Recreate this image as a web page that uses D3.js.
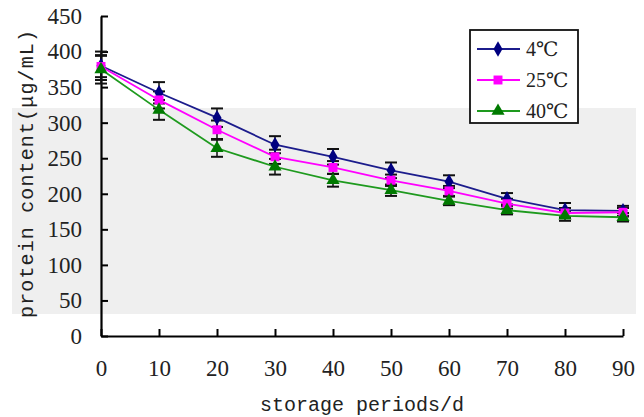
<!DOCTYPE html>
<html>
<head>
<meta charset="utf-8">
<script src="https://d3js.org/d3.v7.min.js"></script>
<style>
  body { margin: 0; background: #fff; }
  svg { display: block; }
</style>
</head>
<body>
<div id="chart"></div>
<script>
// storage periods (days)
const days = [0, 10, 20, 30, 40, 50, 60, 70, 80, 90];
const yTicks = [0, 50, 100, 150, 200, 250, 300, 350, 400, 450];

// protein content per temperature
const t4 = [380, 342, 307, 269, 252, 233, 217, 193, 177, 176];
const t25 = [379, 332, 290, 252, 237, 219, 204, 186, 173, 174];
const t40 = [375, 318, 264, 238, 219, 205, 190, 177, 169, 167];

// error bar half widths
const e4 = [20, 15, 13, 12, 11, 11, 9, 8, 10, 7];
const e25 = [15, 12, 13, 10, 9, 8, 7, 7, 7, 6];
const e40 = [20, 14, 12, 11, 9, 8, 6, 6, 7, 6];

const seriesNames = ['4℃', '25℃', '40℃'];

const width = 644, height = 417;

const svg = d3.select('#chart').append('svg')
    .attr('width', width)
    .attr('height', height);

// grey scan band behind the plot
svg.append('rect')
    .attr('x', 12).attr('y', 108)
    .attr('width', 624).attr('height', 206)
    .attr('fill', '#efefef');

const x = d3.scaleLinear().domain([0, 90]).range([101, 623]);
const y = d3.scaleLinear().domain([0, 450]).range([336, 16]);

const tickFont = "'Liberation Serif', 'DejaVu Serif', serif";
const monoFont = "'Liberation Mono', 'DejaVu Sans Mono', monospace";

// y axis
const yAxis = svg.append('g')
    .attr('transform', `translate(${x(0)},0)`)
    .call(d3.axisLeft(y).tickValues(yTicks).tickSizeInner(-7).tickSizeOuter(0).tickPadding(19));
yAxis.attr('font-family', null).attr('font-size', null);
yAxis.select('.domain').attr('stroke', '#000').attr('stroke-width', 2.2);
yAxis.selectAll('.tick line').attr('stroke', '#000').attr('stroke-width', 2);
yAxis.selectAll('.tick text')
    .attr('fill', '#222')
    .attr('font-family', tickFont)
    .attr('font-size', 23);

// x axis
const xAxis = svg.append('g')
    .attr('transform', `translate(0,${y(0)})`)
    .call(d3.axisBottom(x).tickValues(days).tickSizeInner(-7).tickSizeOuter(0).tickPadding(24));
xAxis.attr('font-family', null).attr('font-size', null);
xAxis.select('.domain').attr('stroke', '#000').attr('stroke-width', 2.2);
xAxis.selectAll('.tick line').attr('stroke', '#000').attr('stroke-width', 2);
xAxis.selectAll('.tick text')
    .attr('fill', '#222')
    .attr('font-family', tickFont)
    .attr('font-size', 23);

// axis titles
svg.append('text')
    .attr('x', 362).attr('y', 411)
    .attr('text-anchor', 'middle')
    .attr('font-family', monoFont)
    .attr('font-size', 20)
    .attr('fill', '#222')
    .text('storage periods/d');

svg.append('text')
    .attr('transform', 'translate(33,174) rotate(-90)')
    .attr('text-anchor', 'middle')
    .attr('textLength', 288)
    .attr('lengthAdjust', 'spacing')
    .attr('font-family', monoFont)
    .attr('font-size', 20)
    .attr('fill', '#222')
    .text('protein content(μg/mL)');

const series = [
    { name: seriesNames[0], values: t4, errs: e4, color: '#1c1c8c', fill: '#000080', shape: d3.symbolDiamond, size: 70 },
    { name: seriesNames[1], values: t25, errs: e25, color: '#ff00ff', fill: '#ff00ff', shape: d3.symbolSquare, size: 80 },
    { name: seriesNames[2], values: t40, errs: e40, color: '#1e9a1e', fill: '#007a00', shape: d3.symbolTriangle, size: 75 }
];

const line = d3.line()
    .x((d, i) => x(days[i]))
    .y(d => y(d));

// error bars
series.forEach(s => {
    const g = svg.append('g');
    s.values.forEach((v, i) => {
        const cx = x(days[i]);
        const top = y(v + s.errs[i]);
        const bot = y(v - s.errs[i]);
        g.append('line').attr('x1', cx).attr('x2', cx).attr('y1', top).attr('y2', bot)
            .attr('stroke', '#111').attr('stroke-width', 1.5);
        [top, bot].forEach(yy => {
            g.append('line').attr('x1', cx - 6).attr('x2', cx + 6).attr('y1', yy).attr('y2', yy)
                .attr('stroke', '#111').attr('stroke-width', 2);
        });
    });
});

// lines and markers
series.forEach(s => {
    svg.append('path')
        .datum(s.values)
        .attr('d', line)
        .attr('fill', 'none')
        .attr('stroke', s.color)
        .attr('stroke-width', 1.8);

    svg.append('g').selectAll('path')
        .data(s.values)
        .enter().append('path')
        .attr('d', d3.symbol().type(s.shape).size(s.size))
        .attr('transform', (d, i) => `translate(${x(days[i])},${y(d)})`)
        .attr('fill', s.fill);
});

// legend
const legend = svg.append('g');
legend.append('rect')
    .attr('x', 470).attr('y', 30)
    .attr('width', 108).attr('height', 93)
    .attr('fill', '#fff')
    .attr('stroke', '#111')
    .attr('stroke-width', 1.8);

series.forEach((s, i) => {
    const ly = 49 + i * 31;
    legend.append('line')
        .attr('x1', 477).attr('x2', 520).attr('y1', ly).attr('y2', ly)
        .attr('stroke', s.color).attr('stroke-width', 1.8);
    legend.append('path')
        .attr('d', d3.symbol().type(s.shape).size(s.size))
        .attr('transform', `translate(498,${ly})`)
        .attr('fill', s.fill);
    legend.append('text')
        .attr('x', 526).attr('y', ly + 7)
        .attr('font-family', tickFont)
        .attr('font-size', 20)
        .attr('fill', '#222')
        .text(s.name);
});
</script>
</body>
</html>
